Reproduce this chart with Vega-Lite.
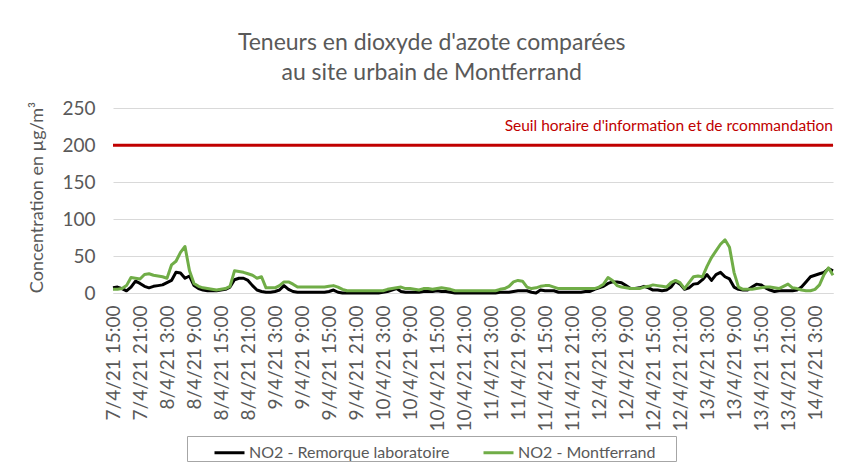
{
  "$schema": "https://vega.github.io/schema/vega-lite/v6.json",
  "width": 720,
  "height": 192,
  "autosize": {"type": "none"},
  "padding": {"left": 113, "top": 101, "right": 17, "bottom": 178},
  "background": "white",
  "config": {
    "font": "Lato",
    "view": {"stroke": null},
    "axis": {"labelColor": "#595959", "titleColor": "#595959", "titleFontWeight": "normal", "labelFont": "Lato", "titleFont": "Lato", "labelOverlap": false},
    "axisX": {"labelFontSize": 19, "labelAngle": 270, "labelPadding": 12, "ticks": false, "grid": false, "domainColor": "#D9D9D9", "labelFlush": false},
    "axisY": {"labelFontSize": 19, "labelPadding": 18, "ticks": false, "domain": false, "grid": true, "gridColor": "#D9D9D9", "titleFontSize": 18, "titlePadding": 15}
  },
  "title": {
    "text": ["Teneurs en  dioxyde d'azote comparées", "au site urbain de Montferrand"],
    "font": "Lato",
    "fontSize": 23,
    "fontWeight": "normal",
    "color": "#595959",
    "lineHeight": 30,
    "offset": 14,
    "anchor": "middle",
    "frame": "bounds"
  },
  "data": {
    "values": [
      {"t": "2021-04-07T15:00", "r": 7, "m": 5},
      {"t": "2021-04-07T16:00", "r": 8, "m": 5},
      {"t": "2021-04-07T17:00", "r": 6, "m": 6},
      {"t": "2021-04-07T18:00", "r": 3, "m": 10},
      {"t": "2021-04-07T19:00", "r": 8, "m": 21},
      {"t": "2021-04-07T20:00", "r": 16, "m": 20},
      {"t": "2021-04-07T21:00", "r": 13, "m": 19},
      {"t": "2021-04-07T22:00", "r": 9, "m": 25},
      {"t": "2021-04-07T23:00", "r": 7, "m": 26},
      {"t": "2021-04-08T00:00", "r": 9, "m": 24},
      {"t": "2021-04-08T01:00", "r": 10, "m": 23},
      {"t": "2021-04-08T02:00", "r": 11, "m": 22},
      {"t": "2021-04-08T03:00", "r": 14, "m": 20},
      {"t": "2021-04-08T04:00", "r": 17, "m": 38},
      {"t": "2021-04-08T05:00", "r": 28, "m": 43},
      {"t": "2021-04-08T06:00", "r": 27, "m": 55},
      {"t": "2021-04-08T07:00", "r": 20, "m": 63},
      {"t": "2021-04-08T08:00", "r": 23, "m": 30},
      {"t": "2021-04-08T09:00", "r": 10, "m": 13},
      {"t": "2021-04-08T10:00", "r": 6, "m": 9},
      {"t": "2021-04-08T11:00", "r": 4, "m": 7},
      {"t": "2021-04-08T12:00", "r": 3, "m": 6},
      {"t": "2021-04-08T13:00", "r": 3, "m": 5},
      {"t": "2021-04-08T14:00", "r": 3, "m": 4},
      {"t": "2021-04-08T15:00", "r": 4, "m": 5},
      {"t": "2021-04-08T16:00", "r": 5, "m": 6},
      {"t": "2021-04-08T17:00", "r": 8, "m": 9},
      {"t": "2021-04-08T18:00", "r": 18, "m": 30},
      {"t": "2021-04-08T19:00", "r": 20, "m": 29},
      {"t": "2021-04-08T20:00", "r": 20, "m": 28},
      {"t": "2021-04-08T21:00", "r": 17, "m": 26},
      {"t": "2021-04-08T22:00", "r": 10, "m": 24},
      {"t": "2021-04-08T23:00", "r": 4, "m": 20},
      {"t": "2021-04-09T00:00", "r": 2, "m": 22},
      {"t": "2021-04-09T01:00", "r": 1, "m": 7},
      {"t": "2021-04-09T02:00", "r": 1, "m": 7},
      {"t": "2021-04-09T03:00", "r": 2, "m": 7},
      {"t": "2021-04-09T04:00", "r": 4, "m": 10},
      {"t": "2021-04-09T05:00", "r": 10, "m": 15},
      {"t": "2021-04-09T06:00", "r": 5, "m": 15},
      {"t": "2021-04-09T07:00", "r": 2, "m": 12},
      {"t": "2021-04-09T08:00", "r": 1, "m": 8},
      {"t": "2021-04-09T09:00", "r": 1, "m": 8},
      {"t": "2021-04-09T10:00", "r": 1, "m": 8},
      {"t": "2021-04-09T11:00", "r": 1, "m": 8},
      {"t": "2021-04-09T12:00", "r": 1, "m": 8},
      {"t": "2021-04-09T13:00", "r": 1, "m": 8},
      {"t": "2021-04-09T14:00", "r": 1, "m": 8},
      {"t": "2021-04-09T15:00", "r": 2, "m": 9},
      {"t": "2021-04-09T16:00", "r": 4, "m": 10},
      {"t": "2021-04-09T17:00", "r": 1, "m": 8},
      {"t": "2021-04-09T18:00", "r": 0, "m": 5},
      {"t": "2021-04-09T19:00", "r": 0, "m": 3},
      {"t": "2021-04-09T20:00", "r": 0, "m": 3},
      {"t": "2021-04-09T21:00", "r": 0, "m": 3},
      {"t": "2021-04-09T22:00", "r": 0, "m": 3},
      {"t": "2021-04-09T23:00", "r": 0, "m": 3},
      {"t": "2021-04-10T00:00", "r": 0, "m": 3},
      {"t": "2021-04-10T01:00", "r": 0, "m": 3},
      {"t": "2021-04-10T02:00", "r": 0, "m": 3},
      {"t": "2021-04-10T03:00", "r": 1, "m": 3},
      {"t": "2021-04-10T04:00", "r": 2, "m": 5},
      {"t": "2021-04-10T05:00", "r": 4, "m": 6},
      {"t": "2021-04-10T06:00", "r": 6, "m": 7},
      {"t": "2021-04-10T07:00", "r": 2, "m": 8},
      {"t": "2021-04-10T08:00", "r": 1, "m": 6},
      {"t": "2021-04-10T09:00", "r": 1, "m": 6},
      {"t": "2021-04-10T10:00", "r": 1, "m": 5},
      {"t": "2021-04-10T11:00", "r": 1, "m": 4},
      {"t": "2021-04-10T12:00", "r": 2, "m": 6},
      {"t": "2021-04-10T13:00", "r": 2, "m": 6},
      {"t": "2021-04-10T14:00", "r": 2, "m": 5},
      {"t": "2021-04-10T15:00", "r": 3, "m": 6},
      {"t": "2021-04-10T16:00", "r": 2, "m": 7},
      {"t": "2021-04-10T17:00", "r": 2, "m": 6},
      {"t": "2021-04-10T18:00", "r": 1, "m": 5},
      {"t": "2021-04-10T19:00", "r": 0, "m": 3},
      {"t": "2021-04-10T20:00", "r": 0, "m": 3},
      {"t": "2021-04-10T21:00", "r": 0, "m": 3},
      {"t": "2021-04-10T22:00", "r": 0, "m": 3},
      {"t": "2021-04-10T23:00", "r": 0, "m": 3},
      {"t": "2021-04-11T00:00", "r": 0, "m": 3},
      {"t": "2021-04-11T01:00", "r": 0, "m": 3},
      {"t": "2021-04-11T02:00", "r": 0, "m": 3},
      {"t": "2021-04-11T03:00", "r": 0, "m": 3},
      {"t": "2021-04-11T04:00", "r": 0, "m": 3},
      {"t": "2021-04-11T05:00", "r": 1, "m": 5},
      {"t": "2021-04-11T06:00", "r": 1, "m": 6},
      {"t": "2021-04-11T07:00", "r": 1, "m": 9},
      {"t": "2021-04-11T08:00", "r": 2, "m": 15},
      {"t": "2021-04-11T09:00", "r": 3, "m": 17},
      {"t": "2021-04-11T10:00", "r": 3, "m": 16},
      {"t": "2021-04-11T11:00", "r": 3, "m": 8},
      {"t": "2021-04-11T12:00", "r": 1, "m": 6},
      {"t": "2021-04-11T13:00", "r": 0, "m": 7},
      {"t": "2021-04-11T14:00", "r": 4, "m": 9},
      {"t": "2021-04-11T15:00", "r": 3, "m": 10},
      {"t": "2021-04-11T16:00", "r": 3, "m": 10},
      {"t": "2021-04-11T17:00", "r": 3, "m": 8},
      {"t": "2021-04-11T18:00", "r": 1, "m": 6},
      {"t": "2021-04-11T19:00", "r": 1, "m": 6},
      {"t": "2021-04-11T20:00", "r": 1, "m": 6},
      {"t": "2021-04-11T21:00", "r": 1, "m": 6},
      {"t": "2021-04-11T22:00", "r": 1, "m": 6},
      {"t": "2021-04-11T23:00", "r": 1, "m": 6},
      {"t": "2021-04-12T00:00", "r": 2, "m": 6},
      {"t": "2021-04-12T01:00", "r": 2, "m": 6},
      {"t": "2021-04-12T02:00", "r": 5, "m": 6},
      {"t": "2021-04-12T03:00", "r": 7, "m": 8},
      {"t": "2021-04-12T04:00", "r": 9, "m": 12},
      {"t": "2021-04-12T05:00", "r": 13, "m": 21},
      {"t": "2021-04-12T06:00", "r": 15, "m": 17},
      {"t": "2021-04-12T07:00", "r": 15, "m": 10},
      {"t": "2021-04-12T08:00", "r": 14, "m": 8},
      {"t": "2021-04-12T09:00", "r": 10, "m": 7},
      {"t": "2021-04-12T10:00", "r": 6, "m": 6},
      {"t": "2021-04-12T11:00", "r": 6, "m": 6},
      {"t": "2021-04-12T12:00", "r": 7, "m": 6},
      {"t": "2021-04-12T13:00", "r": 9, "m": 8},
      {"t": "2021-04-12T14:00", "r": 7, "m": 9},
      {"t": "2021-04-12T15:00", "r": 4, "m": 11},
      {"t": "2021-04-12T16:00", "r": 4, "m": 10},
      {"t": "2021-04-12T17:00", "r": 3, "m": 9},
      {"t": "2021-04-12T18:00", "r": 4, "m": 8},
      {"t": "2021-04-12T19:00", "r": 8, "m": 14},
      {"t": "2021-04-12T20:00", "r": 16, "m": 17},
      {"t": "2021-04-12T21:00", "r": 12, "m": 14},
      {"t": "2021-04-12T22:00", "r": 5, "m": 6},
      {"t": "2021-04-12T23:00", "r": 7, "m": 14},
      {"t": "2021-04-13T00:00", "r": 12, "m": 22},
      {"t": "2021-04-13T01:00", "r": 13, "m": 23},
      {"t": "2021-04-13T02:00", "r": 18, "m": 22},
      {"t": "2021-04-13T03:00", "r": 25, "m": 36},
      {"t": "2021-04-13T04:00", "r": 17, "m": 48},
      {"t": "2021-04-13T05:00", "r": 25, "m": 57},
      {"t": "2021-04-13T06:00", "r": 28, "m": 66},
      {"t": "2021-04-13T07:00", "r": 22, "m": 72},
      {"t": "2021-04-13T08:00", "r": 19, "m": 62},
      {"t": "2021-04-13T09:00", "r": 8, "m": 28},
      {"t": "2021-04-13T10:00", "r": 5, "m": 8},
      {"t": "2021-04-13T11:00", "r": 4, "m": 5},
      {"t": "2021-04-13T12:00", "r": 4, "m": 5},
      {"t": "2021-04-13T13:00", "r": 8, "m": 5},
      {"t": "2021-04-13T14:00", "r": 12, "m": 6},
      {"t": "2021-04-13T15:00", "r": 11, "m": 7},
      {"t": "2021-04-13T16:00", "r": 7, "m": 8},
      {"t": "2021-04-13T17:00", "r": 4, "m": 8},
      {"t": "2021-04-13T18:00", "r": 2, "m": 7},
      {"t": "2021-04-13T19:00", "r": 3, "m": 6},
      {"t": "2021-04-13T20:00", "r": 3, "m": 9},
      {"t": "2021-04-13T21:00", "r": 3, "m": 12},
      {"t": "2021-04-13T22:00", "r": 3, "m": 7},
      {"t": "2021-04-13T23:00", "r": 4, "m": 6},
      {"t": "2021-04-14T00:00", "r": 8, "m": 4},
      {"t": "2021-04-14T01:00", "r": 15, "m": 3},
      {"t": "2021-04-14T02:00", "r": 22, "m": 3},
      {"t": "2021-04-14T03:00", "r": 24, "m": 5},
      {"t": "2021-04-14T04:00", "r": 26, "m": 11},
      {"t": "2021-04-14T05:00", "r": 28, "m": 25},
      {"t": "2021-04-14T06:00", "r": 33, "m": 34},
      {"t": "2021-04-14T07:00", "r": 30, "m": 24}
    ]
  },
  "layer": [
    {
      "mark": {"type": "line", "strokeWidth": 3, "strokeJoin": "round"},
      "encoding": {
        "x": {
          "field": "t",
          "type": "temporal",
          "scale": {"domain": [{"year": 2021, "month": 4, "date": 7, "hours": 15}, {"year": 2021, "month": 4, "date": 14, "hours": 7}]},
          "axis": {
            "title": null,
            "format": "%-d/%-m/%y %-H:%M",
            "labelOverlap": false,
            "tickCount": 60,
            "values": [
              {"year": 2021, "month": 4, "date": 7, "hours": 15},
              {"year": 2021, "month": 4, "date": 7, "hours": 21},
              {"year": 2021, "month": 4, "date": 8, "hours": 3},
              {"year": 2021, "month": 4, "date": 8, "hours": 9},
              {"year": 2021, "month": 4, "date": 8, "hours": 15},
              {"year": 2021, "month": 4, "date": 8, "hours": 21},
              {"year": 2021, "month": 4, "date": 9, "hours": 3},
              {"year": 2021, "month": 4, "date": 9, "hours": 9},
              {"year": 2021, "month": 4, "date": 9, "hours": 15},
              {"year": 2021, "month": 4, "date": 9, "hours": 21},
              {"year": 2021, "month": 4, "date": 10, "hours": 3},
              {"year": 2021, "month": 4, "date": 10, "hours": 9},
              {"year": 2021, "month": 4, "date": 10, "hours": 15},
              {"year": 2021, "month": 4, "date": 10, "hours": 21},
              {"year": 2021, "month": 4, "date": 11, "hours": 3},
              {"year": 2021, "month": 4, "date": 11, "hours": 9},
              {"year": 2021, "month": 4, "date": 11, "hours": 15},
              {"year": 2021, "month": 4, "date": 11, "hours": 21},
              {"year": 2021, "month": 4, "date": 12, "hours": 3},
              {"year": 2021, "month": 4, "date": 12, "hours": 9},
              {"year": 2021, "month": 4, "date": 12, "hours": 15},
              {"year": 2021, "month": 4, "date": 12, "hours": 21},
              {"year": 2021, "month": 4, "date": 13, "hours": 3},
              {"year": 2021, "month": 4, "date": 13, "hours": 9},
              {"year": 2021, "month": 4, "date": 13, "hours": 15},
              {"year": 2021, "month": 4, "date": 13, "hours": 21},
              {"year": 2021, "month": 4, "date": 14, "hours": 3}
            ]
          }
        },
        "y": {
          "field": "r",
          "type": "quantitative",
          "scale": {"domain": [0, 250]},
          "axis": {
            "title": "Concentration en µg/m³",
            "values": [0, 50, 100, 150, 200, 250],
            "tickCount": 20,
            "labelOverlap": false
          }
        },
        "color": {
          "datum": "NO2 - Remorque laboratoire",
          "type": "nominal",
          "scale": {"domain": ["NO2 - Remorque laboratoire", "NO2 - Montferrand"], "range": ["#000000", "#70AD47"]},
          "legend": {
            "title": " ",
            "titleOrient": "left",
            "titlePadding": 26,
            "titleFontSize": 8,
            "orient": "none",
            "legendX": 74,
            "legendY": 335,
            "direction": "horizontal",
            "symbolType": "stroke",
            "symbolStrokeWidth": 3,
            "symbolSize": 900,
            "labelFontSize": 16,
            "labelColor": "#595959",
            "labelLimit": 400,
            "labelOffset": 3,
            "labelExpr": "indexof(datum.label, 'Montferrand') >= 0 ? datum.label + '\u2003\u2002\u200b' : datum.label",
            "columnPadding": 27,
            "strokeColor": "#A6A6A6",
            "padding": 0
          }
        }
      }
    },
    {
      "mark": {"type": "line", "strokeWidth": 3, "strokeJoin": "round"},
      "encoding": {
        "x": {"field": "t", "type": "temporal"},
        "y": {"field": "m", "type": "quantitative"},
        "color": {"datum": "NO2 - Montferrand", "type": "nominal"}
      }
    },
    {
      "data": {"values": [{}]},
      "mark": {"type": "rule", "color": "#C00000", "strokeWidth": 3},
      "encoding": {"y": {"datum": 200, "type": "quantitative"}}
    },
    {
      "data": {"values": [{}]},
      "mark": {"type": "text", "color": "#C00000", "align": "right", "baseline": "bottom", "dy": -11, "fontSize": 15.5},
      "encoding": {
        "x": {"datum": {"year": 2021, "month": 4, "date": 14, "hours": 7}, "type": "temporal"},
        "y": {"datum": 200, "type": "quantitative"},
        "text": {"value": "Seuil horaire d'information et de rcommandation"}
      }
    }
  ]
}
